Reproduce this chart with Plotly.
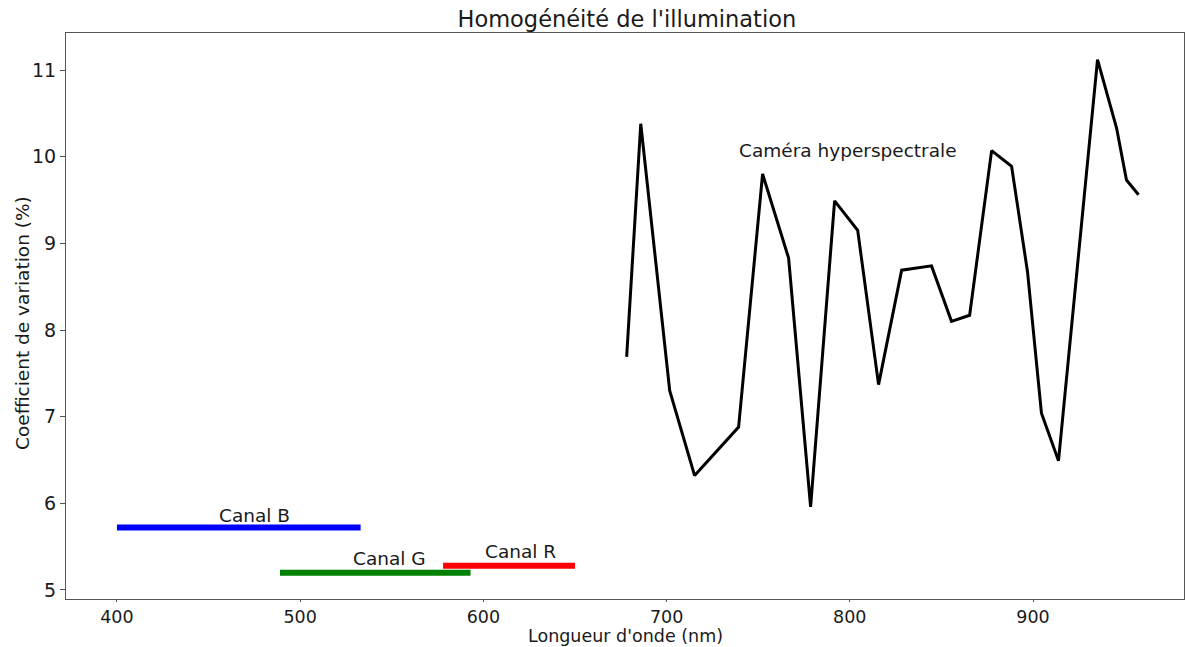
import plotly.graph_objects as go

# Coefficient of variation measured by the hyperspectral camera
wavelengths = [678.2, 685.9, 701.7, 715.3, 739.3, 752.4, 766.6, 778.6, 791.7,
               804.3, 815.7, 828.3, 844.6, 855.5, 865.4, 877.4, 888.3, 897.0,
               904.6, 913.9, 935.2, 945.6, 951.0, 957.6]
cv_values = [7.69, 10.38, 7.30, 6.32, 6.88, 9.80, 8.83, 5.96, 9.49,
             9.15, 7.37, 8.69, 8.74, 8.10, 8.17, 10.07, 9.89, 8.67,
             7.04, 6.49, 11.12, 10.33, 9.73, 9.56]

# RGB camera channels: spectral band (start, end) and coefficient of variation
channel_names = ["Canal B", "Canal G", "Canal R"]
channel_start = [400, 489, 578]
channel_end = [533, 593, 650]
channel_cv = [5.72, 5.20, 5.28]
channel_colors = ["#0000ff", "#008000", "#ff0000"]
channel_label_x = [475, 549, 620]
channel_label_y = [5.86, 5.36, 5.44]

camera_label = "Caméra hyperspectrale"
camera_label_x = 799
camera_label_y = 10.07

x_ticks = [400, 500, 600, 700, 800, 900]
y_ticks = [5, 6, 7, 8, 9, 10, 11]

FONT = "DejaVu Sans, sans-serif"
TEXT_COLOR = "#1a1a1a"
AXIS_COLOR = "#555555"

fig = go.Figure()

for name, x0, x1, cv, col in zip(channel_names, channel_start, channel_end,
                                 channel_cv, channel_colors):
    fig.add_trace(go.Scatter(x=[x0, x1], y=[cv, cv], mode="lines",
                             line=dict(color=col, width=6), name=name,
                             showlegend=False, hoverinfo="skip"))

fig.add_trace(go.Scatter(x=wavelengths, y=cv_values, mode="lines",
                         line=dict(color="black", width=3),
                         name=camera_label, showlegend=False))

for name, lx, ly in zip(channel_names, channel_label_x, channel_label_y):
    fig.add_annotation(x=lx, y=ly, text=name, showarrow=False,
                       font=dict(family=FONT, size=18.5, color=TEXT_COLOR))

fig.add_annotation(x=camera_label_x, y=camera_label_y, text=camera_label,
                   showarrow=False,
                   font=dict(family=FONT, size=18.5, color=TEXT_COLOR))

# Axis titles placed in paper coordinates
fig.add_annotation(xref="paper", yref="paper", x=0.5, y=-0.0848,
                   text="Longueur d'onde (nm)", showarrow=False,
                   xanchor="center", yanchor="bottom", borderpad=0,
                   font=dict(family=FONT, size=17.5, color=TEXT_COLOR))
fig.add_annotation(xref="paper", yref="paper", x=-0.0394, y=0.4876,
                   text="Coefficient de variation (%)", showarrow=False,
                   textangle=-90, xanchor="center", yanchor="middle",
                   font=dict(family=FONT, size=18.5, color=TEXT_COLOR))

fig.update_layout(
    width=1185, height=647,
    margin=dict(l=66, r=1, t=33, b=48),
    paper_bgcolor="white", plot_bgcolor="white",
    font=dict(family=FONT, size=18, color=TEXT_COLOR),
    title=dict(text="Homogénéité de l'illumination", x=0.529, xanchor="center",
               y=0.970, yanchor="middle",
               font=dict(family=FONT, size=22.5, color=TEXT_COLOR)),
)

fig.update_xaxes(
    range=[372.2, 982.4], tickvals=x_ticks, ticktext=[str(v) for v in x_ticks],
    showgrid=False, zeroline=False, showline=True, linecolor=AXIS_COLOR,
    linewidth=1.2, mirror=True, ticks="outside", ticklen=2, tickcolor=AXIS_COLOR,
    tickfont=dict(family=FONT, size=17.5, color=TEXT_COLOR),
)
fig.update_yaxes(
    range=[4.896, 11.427], tickvals=y_ticks, ticktext=[str(v) for v in y_ticks],
    showgrid=False, zeroline=False, showline=True, linecolor=AXIS_COLOR,
    linewidth=1.2, mirror=True, ticks="outside", ticklen=5, tickcolor=AXIS_COLOR,
    tickfont=dict(family=FONT, size=19, color=TEXT_COLOR),
)

fig.write_html("out.html")
